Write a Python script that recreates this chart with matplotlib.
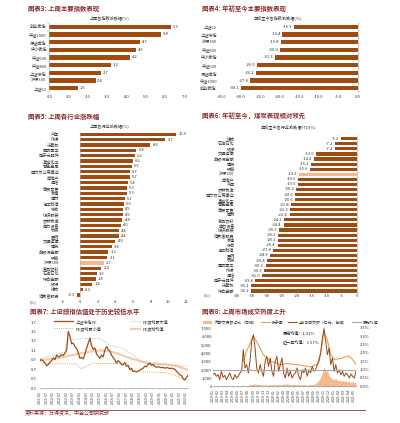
import matplotlib
matplotlib.use("Agg")
import matplotlib.pyplot as plt
from matplotlib.lines import Line2D
from matplotlib.patches import Patch
import numpy as np

plt.rcParams['font.family'] = ['Noto Sans CJK SC', 'DejaVu Sans']
plt.rcParams['axes.unicode_minus'] = False

# ---------------- data ----------------
week_idx_names = ["创业板指", "中证1000", "深证成指", "中小板指", "中证500", "中证800", "上证综指", "沪深300", "上证50"]
week_idx_vals = [6.3, 5.8, 4.7, 4.5, 4.2, 3.2, 2.7, 2.4, 1.5]
week_idx_ticks = [0, 1, 2, 3, 4, 5, 6, 7]

ytd_idx_names = ["上证50", "上证综指", "沪深300", "中证800", "中小板指", "中证500", "深证成指", "中证1000", "创业板指"]
ytd_idx_vals = [-16.3, -19.4, -19.8, -20.0, -21.3, -26.0, -26.2, -27.8, -30.1]
ytd_idx_ticks = [-35, -30, -25, -20, -15, -10, -5, 0]

week_ind_names = ["汽车", "传媒", "计算机", "国防军工", "电子元器件", "基础化工", "有色金属", "电力及公用事业",
                  "房地产", "通信", "商贸零售", "家电", "建材", "轻工制造", "综合", "纺织服装", "农林牧渔",
                  "电力设备", "机械", "医药", "交通运输", "建筑", "非银行金融", "钢铁", "沪深300",
                  "食品饮料", "石油石化", "综合金融", "银行", "煤炭", "消费者服务"]
week_ind_vals = [10.9, 9.7, 8.0, 6.4, 6.2, 6.0, 5.9, 5.7, 5.7, 5.4, 5.3, 5.3, 5.1, 5.0, 4.9, 4.9, 4.8,
                 4.6, 4.4, 4.4, 4.0, 3.6, 3.2, 3.1, 2.7, 2.4, 1.9, 1.8, 1.4, 0.3, -0.3]
week_ind_ticks = [-2, 0, 2, 4, 6, 8, 10, 12]
week_ind_highlight = "沪深300"

ytd_ind_names = ["煤炭", "石油石化", "银行", "交通运输", "非银行金融", "建筑", "钢铁", "沪深300",
                 "房地产", "汽车", "农林牧渔", "电力及公用事业", "基础化工", "有色金属", "商贸零售", "建材",
                 "食品饮料", "电力设备", "纺织服装", "消费者服务", "家电", "综合", "轻工制造", "医药",
                 "机械", "国防军工", "传媒", "通信", "电子元器件", "计算机", "综合金融"]
ytd_ind_vals = [-5.2, -7.2, -7.4, -13.6, -14.4, -15.2, -15.6, -19.2, -19.6, -19.6, -20.2, -20.6, -20.6,
                -21.8, -22.2, -22.4, -24.2, -24.4, -25.9, -26.1, -26.2, -26.4, -27.8, -28.9, -29.8,
                -30.3, -30.9, -31.6, -33.8, -35.1, -35.2]
ytd_ind_ticks = [-40, -35, -30, -25, -20, -15, -10, -5, 0]
ytd_ind_highlight = "沪深300"

# valuation chart
pe_vals = [0.89, 0.90, 0.87, 0.83, 0.77, 0.80, 0.85, 0.88, 0.94, 0.90,
           1.00, 0.96, 0.97, 1.01, 0.99, 1.04, 1.10, 1.50, 1.40, 1.24,
           1.25, 1.18, 1.14, 1.05, 0.93, 0.95, 0.92, 1.02, 1.14, 1.25,
           1.36, 1.20, 1.12, 1.15, 1.02, 0.98, 0.93, 1.00, 0.96, 1.10,
           1.18, 1.12, 1.08, 1.00, 0.94, 0.90, 0.83, 0.88, 0.85, 0.80,
           0.79, 0.84, 0.76, 0.78, 0.69, 0.72, 0.65, 0.66, 0.64, 0.66,
           0.68, 0.70, 0.72, 0.76, 0.75, 0.80, 0.83, 0.78, 0.80, 0.76,
           0.74, 0.75, 0.74, 0.73, 0.74, 0.72, 0.73, 0.73, 0.71, 0.72,
           0.71, 0.70, 0.66, 0.62, 0.58, 0.57, 0.50, 0.47, 0.52, 0.57]
pe_max_idx = [0, 15, 16, 17, 28, 36, 42, 50, 56, 60, 64, 68, 76, 84, 89]
pe_max_vals = [0.92, 1.06, 1.25, 1.32, 1.35, 1.35, 1.21, 1.14, 1.00, 0.89, 0.82, 0.80, 0.79, 0.77, 0.77]
pe_min_idx = [0, 2, 22, 24, 26, 30, 32, 52, 55, 72, 76, 82, 86, 89]
pe_min_vals = [0.87, 0.82, 0.81, 0.72, 0.72, 0.80, 0.82, 0.82, 0.65, 0.63, 0.62, 0.56, 0.49, 0.46]
pe_mean_idx = [0, 8, 16, 24, 30, 36, 42, 46, 52, 60, 66, 76, 82, 86, 89]
pe_mean_vals = [0.89, 0.92, 0.97, 1.03, 1.07, 1.10, 1.08, 1.04, 0.96, 0.87, 0.82, 0.80, 0.77, 0.72, 0.68]
pe_ticks = [0.3, 0.5, 0.7, 0.9, 1.1, 1.3, 1.5, 1.7]
pe_dates = ["2011-01", "2011-07", "2012-01", "2012-07", "2013-01", "2013-07", "2014-01", "2014-07",
            "2015-01", "2015-07", "2016-01", "2016-07", "2017-01", "2017-07", "2018-01", "2018-07",
            "2019-01", "2019-07", "2020-01", "2020-07", "2021-01", "2021-07", "2022-01"]
pe_labels = ["上证综指PE", "PE滚动最大值", "PE滚动最小值", "PE滚动均值"]

# turnover chart
amt_vals = [1360, 1560, 1160, 1360, 760, 1760, 1040, 1280, 760, 1160,
            1560, 960, 760, 1360, 960, 1160, 1560, 1760, 4360, 2160,
            2560, 1560, 2960, 5360, 6160, 4560, 2160, 1560, 2560, 1760,
            1160, 2960, 3560, 2360, 3360, 1760, 1160, 2960, 3560, 1760,
            2560, 3360, 1560, 960, 2160, 1160, 1760, 960, 1360, 1560,
            2160, 1160, 760, 1960, 1560, 2160, 1160, 1960, 1560, 2360,
            1760, 1960, 2560, 2960, 3960, 5760, 6900, 5360, 3760, 4560,
            2560, 3360, 1760, 2560, 1560, 1960, 1360, 1760, 1160, 1560,
            1360, 960, 1440, 1160, 960, 1760]
ma_idx = [18, 20, 24, 27, 30, 32, 34, 38, 40, 44, 52, 58, 62, 64, 66, 68, 70, 72, 76, 80, 82, 84, 85]
ma_vals = [3000, 4200, 5960, 4960, 3760, 3360, 2960, 2760, 2560, 2700, 2500, 2300, 2600, 4000, 6500,
           5500, 3800, 3200, 3300, 3600, 3400, 2900, 2600]
share_idx = [0, 20, 22, 24, 26, 28, 30, 34, 38, 40, 42, 44, 46, 48, 50, 52, 54, 56, 58,
             60, 61, 62, 63, 64, 65, 66, 67, 68, 69, 70, 71, 72, 73, 74, 75, 76, 77, 78, 79,
             80, 81, 82, 83, 84, 85]
share_vals = [0.0, 0.02, 0.08, 0.12, 0.10, 0.07, 0.06, 0.07, 0.09, 0.08, 0.11, 0.12, 0.09, 0.10,
              0.08, 0.07, 0.08, 0.06, 0.07,
              0.10, 0.14, 0.25, 0.35, 0.55, 0.80, 1.15, 0.85, 0.95, 0.60, 0.50, 0.42, 0.38, 0.45,
              0.32, 0.36, 0.28, 0.33, 0.26, 0.30, 0.24, 0.27, 0.22, 0.25, 0.21, 0.20]
amt_hist_mean = 1920
amt_ticks = [0, 1000, 2000, 3000, 4000, 5000, 6000, 7000]
share_ticks = [0.0, 0.5, 1.0, 1.5, 2.0, 2.5, 3.0, 3.5]
turn_dates = ["2019-01", "2019-02", "2019-03", "2019-04", "2019-05", "2019-06", "2019-07", "2019-08",
              "2019-09", "2019-10", "2019-11", "2019-12", "2020-01", "2020-02", "2020-03", "2020-04",
              "2020-05", "2020-06", "2020-07", "2020-08", "2020-09", "2020-10", "2020-11", "2020-12",
              "2021-01", "2021-02", "2021-03", "2021-04", "2021-05"]
turn_labels = ["两融交易额占比（右轴）", "换手率", "全A日成交额（亿元，左轴）", "历史均值"]
turn_notes = ["历史均值：1.92%", "近一年均值：1.57%"]

titles = ["图表3: 上周主要指数表现", "图表4: 年初至今主要指数表现", "图表5: 上周各行业涨跌幅",
          "图表6: 年初至今，煤炭表现相对领先", "图表7: 上证综指估值处于历史较低水平", "图表8: 上周市场成交热度上升"]
subtitles = ["上周各指数涨跌幅(%)", "年初至今各指数涨跌幅(%)", "上周各行业涨跌幅(%)", "年初至今各行业涨跌幅YTD(%)"]
source = "资料来源：万得资讯，中金公司研究部"

# ---------------- style ----------------
W, H = 400, 423
fig = plt.figure(figsize=(4, 4.23), dpi=100)


def rect(x0, x1, y0, y1):
    return [x0 / W, 1 - y1 / H, (x1 - x0) / W, (y1 - y0) / H]


def fx(x):
    return x / W


def fy(y):
    return 1 - y / H


BROWN = '#A04B12'
PEACH = '#F5B98C'
TITLE = '#8C2B2B'
TXT = '#333333'
AXC = '#A8A8A8'
FS = 3.0


def hbar(ax, names, vals, xlim, ticks, fmt, highlight=None, bh=0.55,
         lab_off=0.1, ypad=1.9, xpad=1.8):
    n = len(names)
    y = np.arange(n)
    cols = [PEACH if nm == highlight else BROWN for nm in names]
    ax.barh(y, vals, height=bh, color=cols, linewidth=0)
    ax.set_ylim(n - 0.5, -0.5)
    ax.set_xlim(*xlim)
    ax.set_yticks(y)
    ax.set_yticklabels(names, fontsize=FS, color=TXT)
    ax.set_xticks(ticks)
    ax.set_xticklabels([fmt(t) for t in ticks], fontsize=FS, color=TXT)
    for s in ['top', 'right', 'bottom', 'left']:
        ax.spines[s].set_visible(False)
    ax.tick_params(axis='y', which='major', length=0, pad=ypad)
    ax.tick_params(axis='x', length=0, pad=xpad)
    ax.patch.set_visible(False)
    for yi, v in zip(y, vals):
        if v >= 0:
            ax.text(v + lab_off, yi, f'{v:.1f}', va='center', ha='left', fontsize=FS, color=TXT)
        else:
            ax.text(v - lab_off, yi, f'{v:.1f}', va='center', ha='right', fontsize=FS, color=TXT)
    return y


# Panel 1
ax1 = fig.add_axes(rect(49.3, 184.3, 22.85, 92.15))
hbar(ax1, week_idx_names, week_idx_vals, (0, 7), week_idx_ticks, lambda t: f'{t:.1f}', bh=0.55,
     lab_off=0.08)
ax1.spines['left'].set_visible(True)
ax1.spines['left'].set_color(AXC)
ax1.spines['left'].set_linewidth(0.4)
ax1.set_yticks(np.arange(-0.5, len(week_idx_names)), minor=True)
ax1.tick_params(axis='y', which='minor', length=1.5, width=0.3, color=AXC)

# Panel 2
ax2 = fig.add_axes(rect(221.7, 357.7, 22.85, 92.15))
hbar(ax2, ytd_idx_names, ytd_idx_vals, (-35, 0), ytd_idx_ticks, lambda t: f'{t:.1f}', bh=0.55,
     lab_off=0.4, ypad=3.5)
ax2.spines['right'].set_visible(True)
ax2.spines['right'].set_color(AXC)
ax2.spines['right'].set_linewidth(0.4)
ax2.set_yticks(np.arange(-0.5, len(ytd_idx_names)), minor=True)
ax2.tick_params(axis='y', which='minor', left=False, right=True, length=1.5, width=0.3, color=AXC)

# Panel 3
ax3 = fig.add_axes(rect(62.4, 185.7, 131.6, 297.7))
hbar(ax3, week_ind_names, week_ind_vals, (-2, 12), week_ind_ticks, lambda t: f'{t:d}',
     highlight=week_ind_highlight, bh=0.62, lab_off=0.25, ypad=2.2, xpad=2.0)
ax3.axvline(0, color=AXC, lw=0.4)

# Panel 4
ax4 = fig.add_axes(rect(236.7, 356.7, 136.2, 293.5))
hbar(ax4, ytd_ind_names, ytd_ind_vals, (-40, 0), ytd_ind_ticks, lambda t: f'{t:d}',
     highlight=ytd_ind_highlight, bh=0.62, lab_off=0.6, ypad=1.5, xpad=0.6)
ax4.spines['right'].set_visible(True)
ax4.spines['right'].set_color(AXC)
ax4.spines['right'].set_linewidth(0.4)
ax4.set_yticks(np.arange(-0.5, len(ytd_ind_names)), minor=True)
ax4.tick_params(axis='y', which='minor', left=False, right=True, length=1.5, width=0.3, color=AXC)

# Panel 5
ax5 = fig.add_axes(rect(40, 188, 322, 388))
xpe = np.arange(len(pe_vals))
l_mean, = ax5.plot(pe_mean_idx, pe_mean_vals, color='#F8CBAA', lw=1.6)
l_max, = ax5.plot(pe_max_idx, pe_max_vals, color='#B8B8B8', lw=0.6, ls=(0, (1.5, 1.5)))
l_min, = ax5.plot(pe_min_idx, pe_min_vals, color='#F2A23A', lw=0.7, ls=(0, (1, 1.2)))
l_pe, = ax5.plot(xpe, pe_vals, color='#9E4E16', lw=0.9)
ax5.set_xlim(0, len(pe_vals) - 1)
ax5.set_ylim(pe_ticks[0], pe_ticks[-1])
ax5.set_yticks(pe_ticks)
ax5.set_yticklabels([f'{t:.1f}' for t in pe_ticks], fontsize=FS, color=TXT)
pe_pos = np.arange(0, len(pe_vals), 4)[:len(pe_dates)]
ax5.set_xticks(pe_pos)
ax5.set_xticklabels(pe_dates, rotation=90, fontsize=2.6, color=TXT)
for s in ['top', 'right', 'left']:
    ax5.spines[s].set_visible(False)
ax5.spines['bottom'].set_color(AXC)
ax5.spines['bottom'].set_linewidth(0.5)
ax5.tick_params(axis='y', length=0, pad=2.5)
ax5.tick_params(axis='x', length=1.2, width=0.3, color=AXC, pad=0.8)
ax5.patch.set_visible(False)
leg_a = fig.legend([l_pe, l_min], [pe_labels[0], pe_labels[2]], loc='upper left',
                   bbox_to_anchor=(fx(54), fy(319)), fontsize=FS, frameon=False, handlelength=4.5,
                   handletextpad=0.6, labelspacing=0.5, borderpad=0, borderaxespad=0)
for t in leg_a.get_texts():
    t.set_color(TXT)
leg_b = fig.legend([l_max, l_mean], [pe_labels[1], pe_labels[3]], loc='upper left',
                   bbox_to_anchor=(fx(131), fy(319)), fontsize=FS, frameon=False, handlelength=2.2,
                   handletextpad=0.6, labelspacing=0.5, borderpad=0, borderaxespad=0)
for t in leg_b.get_texts():
    t.set_color(TXT)

# Panel 6
ax6 = fig.add_axes(rect(213, 356, 327.7, 386))
ax6r = ax6.twinx()
xa = np.arange(len(amt_vals))
area = ax6r.fill_between(share_idx, share_vals, 0, color=PEACH, lw=0)
ax6r.set_ylim(share_ticks[0], share_ticks[-1])
ax6r.set_yticks(share_ticks)
ax6r.set_yticklabels([f'{t:.1f}%' for t in share_ticks], fontsize=FS, color=TXT)
l_ma, = ax6.plot(ma_idx, ma_vals, color='#EE9A4D', lw=0.8)
l_amt, = ax6.plot(xa, amt_vals, color='#9A4610', lw=0.7)
l_hm = ax6.axhline(amt_hist_mean, color='#A8A8A8', lw=0.8)
ax6.set_zorder(ax6r.get_zorder() + 1)
ax6.patch.set_visible(False)
ax6.set_xlim(0, len(amt_vals) - 1)
ax6.set_ylim(amt_ticks[0], amt_ticks[-1])
ax6.set_yticks(amt_ticks)
ax6.set_yticklabels([f'{t:,}' for t in amt_ticks], fontsize=FS, color=TXT)
turn_pos = np.arange(0, len(amt_vals), 3)[:len(turn_dates)]
ax6.set_xticks(turn_pos)
ax6.set_xticklabels(turn_dates, rotation=90, fontsize=2.6, color=TXT)
for a in (ax6, ax6r):
    for s in ['top', 'right', 'left']:
        a.spines[s].set_visible(False)
    a.spines['bottom'].set_color(AXC)
    a.spines['bottom'].set_linewidth(0.5)
ax6.tick_params(axis='y', length=0, pad=0.8)
ax6r.tick_params(axis='y', length=0, pad=2.5)
ax6.tick_params(axis='x', length=1.2, width=0.3, color=AXC, pad=0.8)
ax6.text(0.49, 0.89, turn_notes[0], transform=ax6.transAxes, fontsize=FS, color='#222222', va='center')
ax6.text(0.49, 0.755, turn_notes[1], transform=ax6.transAxes, fontsize=FS, color='#222222', va='center')
leg6 = fig.legend([Patch(color=PEACH, lw=0), l_ma, l_amt, l_hm], turn_labels, loc='upper left',
                  bbox_to_anchor=(fx(203), fy(320.5)), ncol=4, fontsize=2.8, frameon=False,
                  handlelength=2.4, handletextpad=0.5, columnspacing=1.0, borderpad=0, borderaxespad=0)
for t in leg6.get_texts():
    t.set_color(TXT)

# titles and text
title_pos = [(28, 9), (202, 9), (28, 116.7), (202, 116.7), (30, 311.7), (202, 311.7)]
for (tx, ty), s in zip(title_pos, titles):
    fig.text(fx(tx), fy(ty), s, fontsize=4.6, color=TITLE, fontweight='bold', va='center', ha='left')
sub_pos = [(110, 18.3), (278, 18.3), (110, 126), (289, 126.7)]
for (tx, ty), s in zip(sub_pos, subtitles):
    fig.text(fx(tx), fy(ty), s, fontsize=FS, color=TXT, va='center', ha='center')
fig.text(fx(33), fy(302.3), "(%)", fontsize=FS, color=TXT, va='center', ha='center')
fig.text(fx(207), fy(295.5), "(%)", fontsize=FS, color=TXT, va='center', ha='center')

fig.add_artist(Line2D([fx(25), fx(365)], [fy(409.5), fy(409.5)], color='#8C3A3A', lw=0.6))
fig.text(fx(25), fy(413.5), source, fontsize=3.6, color=TITLE, style='italic', va='center', ha='left')

fig.savefig("out.png", dpi=100)
